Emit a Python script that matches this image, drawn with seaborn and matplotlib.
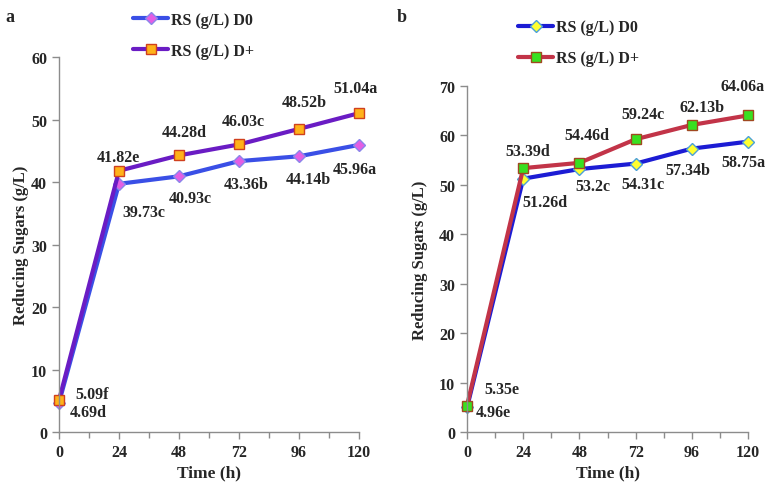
import numpy as np
import pandas as pd
import matplotlib
matplotlib.use("Agg")
import matplotlib.pyplot as plt
from matplotlib.lines import Line2D
import seaborn as sns

# Data
time_h = [0, 24, 48, 72, 96, 120]

a_d0 = [4.69, 39.73, 40.93, 43.36, 44.14, 45.96]
a_d0_letters = ["d", "c", "c", "b", "b", "a"]
a_dp = [5.09, 41.82, 44.28, 46.03, 48.52, 51.04]
a_dp_letters = ["f", "e", "d", "c", "b", "a"]

b_d0 = [4.96, 51.26, 53.2, 54.31, 57.34, 58.75]
b_d0_letters = ["e", "d", "c", "c", "b", "a"]
b_dp = [5.35, 53.39, 54.46, 59.24, 62.13, 64.06]
b_dp_letters = ["e", "d", "d", "c", "b", "a"]

series_labels = ["RS (g/L) D0", "RS (g/L) D+"]

sns.set_style("white")
plt.rcParams["font.family"] = ["Liberation Serif", "DejaVu Serif"]
plt.rcParams["font.weight"] = "bold"
plt.rcParams["axes.labelweight"] = "bold"

fig = plt.figure(figsize=(7.67, 4.89), dpi=100)
ax_a = fig.add_axes([0.0769, 0.1145, 0.3912, 0.7665])
ax_b = fig.add_axes([0.6089, 0.1145, 0.3664, 0.7075])

# styles per series: (line color, marker, face, edge, size)
styles = {
    "a_d0": ("#3a4fe6", "D", "#e45ee4", "#8a86ea", 6.5),
    "a_dp": ("#6a1cc4", "s", "#ffb21a", "#d0401e", 7.5),
    "b_d0": ("#1c1cd4", "D", "#ffff30", "#4aa0d8", 6.5),
    "b_dp": ("#c23448", "s", "#38e020", "#a04820", 7.5),
}

# label offsets in pixels (dx right, dy down) from each marker
a_d0_off = [(29, 9), (25, 28), (11, 22), (7, 23), (9, 23), (-4, 24)]
a_dp_off = [(33, -6), (-1, -14), (5, -23), (4, -23), (5, -27), (-4, -25)]
b_d0_off = [(26, 5), (22, 23), (13, 17), (7, 20), (-4, 21), (-5, 20)]
b_dp_off = [(35, -17), (5, -17), (7, -28), (7, -25), (10, -18), (-5, -29)]

FS = 11.5


def draw(ax, vals, letters, offs, key, label):
    lc, mk, fc, ec, ms = styles[key]
    df = pd.DataFrame({"Time (h)": time_h, "RS": vals})
    sns.lineplot(data=df, x="Time (h)", y="RS", ax=ax, color=lc, lw=3.0,
                 marker=mk, markersize=ms, markerfacecolor=fc,
                 markeredgecolor=ec, markeredgewidth=1.0, label=label,
                 legend=False)
    for t, v, l, (dx, dy) in zip(time_h, vals, letters, offs):
        ax.annotate(f"{v:g}{l}", xy=(t, v), xytext=(dx * 0.72, -dy * 0.72),
                    textcoords="offset points", ha="center", va="center",
                    fontsize=FS, fontweight="bold")


draw(ax_a, a_d0, a_d0_letters, a_d0_off, "a_d0", series_labels[0])
draw(ax_a, a_dp, a_dp_letters, a_dp_off, "a_dp", series_labels[1])
draw(ax_b, b_d0, b_d0_letters, b_d0_off, "b_d0", series_labels[0])
draw(ax_b, b_dp, b_dp_letters, b_dp_off, "b_dp", series_labels[1])

for ax, ymax in [(ax_a, 60), (ax_b, 70)]:
    ax.set_xlim(0, 120)
    ax.set_ylim(0, ymax)
    ax.set_xticks(range(0, 121, 24))
    ax.set_xticks(range(0, 121, 12), minor=True)
    ax.set_yticks(range(0, ymax + 1, 10))
    ax.set_xlabel("Time (h)", fontsize=12.5, fontweight="bold", labelpad=3)
    ax.set_ylabel("Reducing Sugars (g/L)", fontsize=12, fontweight="bold")
    for s in ["top", "right"]:
        ax.spines[s].set_visible(False)
    for s in ["left", "bottom"]:
        ax.spines[s].set_color("#8c8c8c")
        ax.spines[s].set_linewidth(1.0)
    ax.tick_params(axis="both", which="both", direction="out", color="#8c8c8c",
                   length=5, width=1.0, labelsize=FS, bottom=True, left=True)
    ax.tick_params(axis="x", which="minor", length=4)
    for lab in ax.get_xticklabels() + ax.get_yticklabels():
        lab.set_fontweight("bold")
    for ln in ax.get_lines():
        ln.set_clip_on(False)

ax_a.yaxis.set_label_coords(-0.1, 0.5)
ax_b.yaxis.set_label_coords(-0.14, 0.5)


def legend_for(keys, anchor):
    handles = []
    for k in keys:
        lc, mk, fc, ec, ms = styles[k]
        handles.append(Line2D([], [], color=lc, lw=3.0, marker=mk, markersize=ms,
                              markerfacecolor=fc, markeredgecolor=ec))
    fig.legend(handles, series_labels, loc="upper left", bbox_to_anchor=anchor,
               frameon=False, handlelength=2.2, handletextpad=0.15,
               labelspacing=0.95, borderpad=0,
               prop={"family": "Liberation Serif", "weight": "bold", "size": FS})


legend_for(["a_d0", "a_dp"], (0.163, 0.99))
legend_for(["b_d0", "b_dp"], (0.665, 0.975))

fig.text(0.007, 0.965, "a", fontsize=13, fontweight="bold", va="center")
fig.text(0.517, 0.965, "b", fontsize=13, fontweight="bold", va="center")

fig.savefig("out.png", dpi=100)
